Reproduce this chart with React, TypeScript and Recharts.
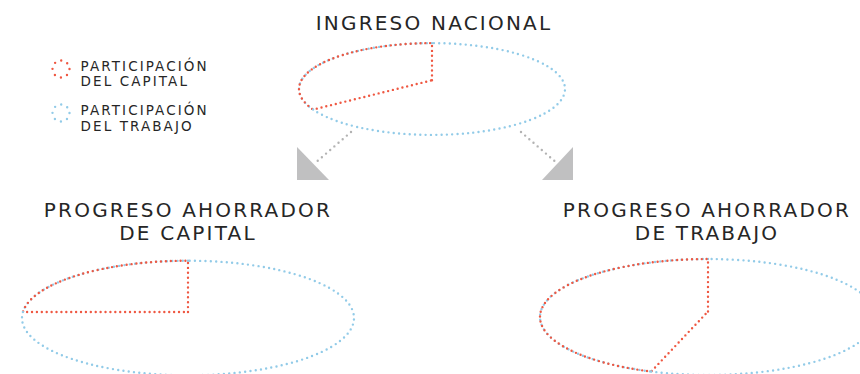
import { PieChart, Pie, Legend } from "recharts";

// shares of national income: [capital, labour]
const seriesNames = [["PARTICIPACIÓN", "DEL CAPITAL"], ["PARTICIPACIÓN", "DEL TRABAJO"]];
const seriesColors = ["#ef5842", "#92cbe8"];
const ingresoNacional = [35, 65];
const ahorradorCapital = [25, 75];
const ahorradorTrabajo = [45, 55];
const titles = [["INGRESO NACIONAL"], ["PROGRESO AHORRADOR", "DE CAPITAL"], ["PROGRESO AHORRADOR", "DE TRABAJO"]];

const toRows = (vals: number[]) => vals.map((v, i) => ({ name: seriesNames[i].join(" "), value: v }));

const SQUASH = 0.345; // pies are seen lying down, in perspective
const FONT = "'DejaVu Sans', sans-serif";
const TEXT = "#262626";
const dots = { fill: "none", strokeWidth: 2.4, strokeLinecap: "round" as const };

// perspective: the disc centre sits a bit above the centre of its outline
const project = (deg: number, b: number) => {
  const a = (deg * Math.PI) / 180;
  const u = Math.cos(a), v = Math.sin(a);
  const d = 1 + b * v;
  return [(u * Math.sqrt(1 - b * b)) / d, (v + b) / d];
};

const makeSlice = (b: number) => (props: any) => {
  const { cx, cy, outerRadius: r, startAngle, endAngle, index } = props;
  const ry = r * SQUASH;
  const [u1, v1] = project(startAngle, b);
  const [u2, v2] = project(endAngle, b);
  const x1 = cx + r * u1, y1 = cy - ry * v1;
  const x2 = cx + r * u2, y2 = cy - ry * v2;
  let span = ((Math.atan2(v2, u2) - Math.atan2(v1, u1)) * 180) / Math.PI;
  span = ((span % 360) + 360) % 360;
  const arc = `A${r},${ry} 0 ${span > 180 ? 1 : 0} 0 ${x2},${y2}`;
  return (
    <g>
      <path d={`M${x1},${y1} ${arc}`} stroke={seriesColors[1]} strokeDasharray="0 5.3" {...dots} />
      {index === 0 && (
        <path
          d={`M${cx},${cy - ry * b} L${x1},${y1} ${arc} Z`}
          stroke={seriesColors[0]}
          strokeDasharray="0 4.9"
          {...dots}
        />
      )}
    </g>
  );
};

function LegendBox() {
  return (
    <svg width={240} height={140} style={{ display: "block" }}>
      {seriesNames.map((lines, i) => (
        <g key={i}>
          <circle cx={61} cy={69 + i * 44} r={8.5} stroke={seriesColors[i]} strokeDasharray="0 6.67" {...dots} />
          {lines.map((t, j) => (
            <text key={j} x={80.5} y={70.8 + i * 44.5 + j * 15.5} fontSize={13.5} letterSpacing={2.1}
              fontFamily={FONT} fill={TEXT}>{t}</text>
          ))}
        </g>
      ))}
    </svg>
  );
}

const pies = [
  { data: ingresoNacional, cx: 432, cy: 89, r: 133, b: 0.19 },
  { data: ahorradorCapital, cx: 188, cy: 318, r: 166, b: 0.105 },
  { data: ahorradorTrabajo, cx: 708, cy: 317, r: 168, b: 0.095 },
];

const titlePos = [{ x: 434, y: 30 }, { x: 188, y: 217 }, { x: 707, y: 217 }];

export default function App() {
  return (
    <div style={{ position: "absolute", left: 0, top: 0 }}>
      <PieChart width={860} height={374} margin={{ top: 0, right: 0, bottom: 0, left: 0 }}>
        {pies.map((p, k) => (
          <Pie
            key={k}
            data={toRows(p.data)}
            dataKey="value"
            nameKey="name"
            cx={p.cx}
            cy={p.cy}
            outerRadius={p.r}
            startAngle={90}
            endAngle={450}
            fill="none"
            stroke="none"
            label={makeSlice(p.b)}
            labelLine={false}
            isAnimationActive={false}
          />
        ))}
        {titles.map((lines, k) =>
          lines.map((t, j) => (
            <text key={`${k}-${j}`} x={titlePos[k].x} y={titlePos[k].y + j * 23} textAnchor="middle"
              fontSize={20} letterSpacing={2.2} fontFamily={FONT} fill={TEXT}>{t}</text>
          ))
        )}
        {/* arrows towards the two scenarios */}
        <line x1={351} y1={132} x2={314} y2={164} stroke="#b3b3b3" strokeDasharray="0 5.5" {...dots} />
        <polygon points="297,147 297,180 329,180" fill="#c0c0c1" />
        <line x1={521} y1={132} x2={558} y2={164} stroke="#b3b3b3" strokeDasharray="0 5.5" {...dots} />
        <polygon points="573,147 573,180 542,180" fill="#c0c0c1" />
        <Legend
          layout="horizontal"
          verticalAlign="middle"
          align="center"
          wrapperStyle={{ left: 0, top: 0, width: 240 }}
          content={() => <LegendBox />}
        />
      </PieChart>
    </div>
  );
}
